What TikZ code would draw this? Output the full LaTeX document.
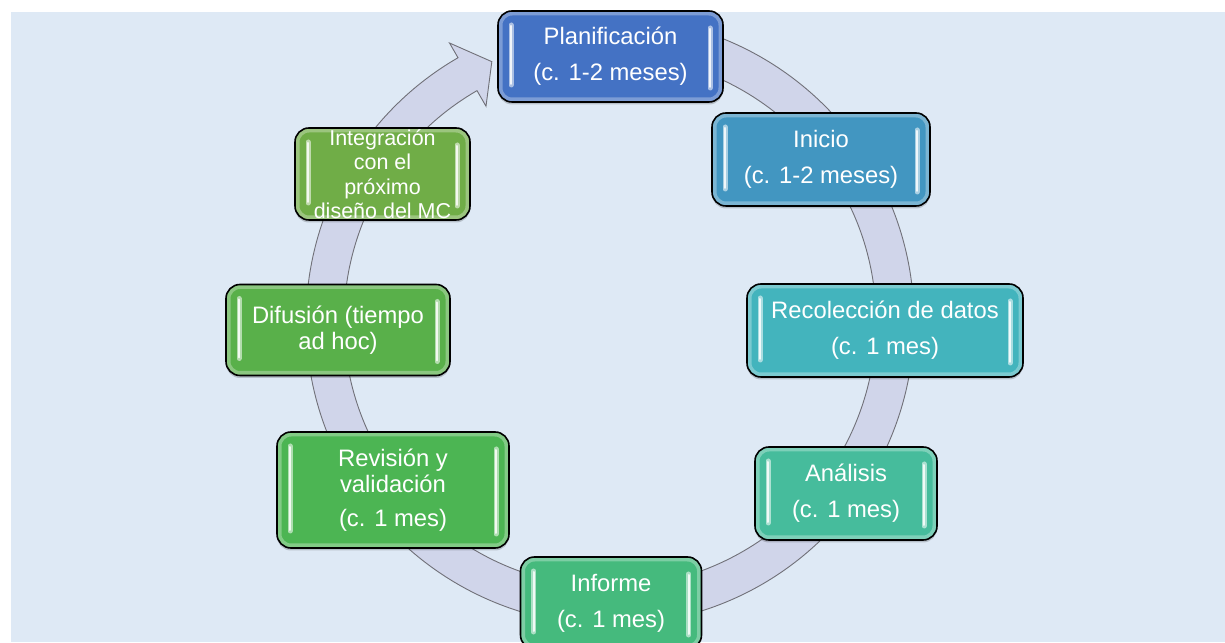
\documentclass[tikz,border=0pt]{standalone}
\usepackage{fontspec}
\setmainfont{Liberation Sans}
\usetikzlibrary{shadows}
\definecolor{bgblue}{HTML}{DEE9F5}
\definecolor{ringfill}{HTML}{D0D5EA}
\definecolor{ringline}{HTML}{707078}
\definecolor{cPlan}{HTML}{4472C4}
\definecolor{cIni}{HTML}{4296C1}
\definecolor{cRec}{HTML}{43B4BD}
\definecolor{cAna}{HTML}{46BC9C}
\definecolor{cInf}{HTML}{45BA7D}
\definecolor{cRev}{HTML}{4CB553}
\definecolor{cDif}{HTML}{59B04A}
\definecolor{cInt}{HTML}{70AD47}
\tikzset{
  cyclebox/.style={rounded corners=14pt, draw=black, line width=1.6pt, fill=#1,
    text=white, inner sep=0pt, align=center,
    drop shadow={shadow xshift=0pt, shadow yshift=-2.5pt, opacity=0.18, fill=black},
    font=\fontsize{23.8}{36}\selectfont,
    path picture={
      \draw[white, opacity=0.3, line width=9pt, rounded corners=14pt]
        (path picture bounding box.south west) rectangle (path picture bounding box.north east);
      \draw[#1!45!white, line width=5pt, line cap=round]
        ([xshift=13pt,yshift=17pt]path picture bounding box.south west) --
        ([xshift=13pt,yshift=-14pt]path picture bounding box.north west);
      \draw[#1!8!white, line width=2pt, line cap=round]
        ([xshift=13pt,yshift=18pt]path picture bounding box.south west) --
        ([xshift=13pt,yshift=-15pt]path picture bounding box.north west);
      \draw[#1!45!white, line width=5pt, line cap=round]
        ([xshift=-13pt,yshift=14pt]path picture bounding box.south east) --
        ([xshift=-13pt,yshift=-17pt]path picture bounding box.north east);
      \draw[#1!8!white, line width=2pt, line cap=round]
        ([xshift=-13pt,yshift=15pt]path picture bounding box.south east) --
        ([xshift=-13pt,yshift=-18pt]path picture bounding box.north east);
    }},
  ringshape/.style={fill=ringfill, draw=ringline, line width=0.9pt, line join=miter}
}
\begin{document}
\begin{tikzpicture}[x=1pt,y=1pt]
\useasboundingbox (0,0) rectangle (1225,642);
\fill[white] (0,0) rectangle (1225,642);
\fill[bgblue] (11,0) rectangle (1225,630);
% cycle ring with arrow head
\begin{scope}[shift={(610,321)}]
\draw[ringshape] (95:304) arc[start angle=95, end angle=-240, radius=304]
  -- (-240:321) -- (-245.5:285) -- (-240:248) -- (-240:266)
  arc[start angle=-240, end angle=95, radius=266] -- cycle;
\end{scope}
% boxes
\node[cyclebox=cPlan, minimum width=225pt, minimum height=91pt] (plan) at (610.5,585.5)
  {Planificación\\(c. 1-2 meses)};
\node[cyclebox=cIni, minimum width=218pt, minimum height=93pt] (ini) at (821,482.5)
  {Inicio\\(c. 1-2 meses)};
\node[cyclebox=cRec, minimum width=276pt, minimum height=93pt] (rec) at (885,311.5)
  {Recolección de datos\\(c. 1 mes)};
\node[cyclebox=cAna, minimum width=182pt, minimum height=93pt] (ana) at (846,148.5)
  {Análisis\\(c. 1 mes)};
\node[cyclebox=cInf, minimum width=181pt, minimum height=92pt] (inf) at (611,39)
  {Informe\\(c. 1 mes)};
\node[cyclebox=cRev, minimum width=232pt, minimum height=116pt,
  font=\fontsize{23.8}{26}\selectfont] (rev) at (393,152)
  {Revisión y\\validación\\[8pt](c. 1 mes)};
\node[cyclebox=cDif, minimum width=224pt, minimum height=91pt,
  font=\fontsize{23.8}{26}\selectfont] (dif) at (338,312)
  {Difusión (tiempo\\ad hoc)};
\node[cyclebox=cInt, minimum width=175pt, minimum height=92pt,
  font=\fontsize{21.5}{24.5}\selectfont] (int) at (382.5,468)
  {Integración\\con el\\próximo\\diseño del MC};
\end{tikzpicture}
\end{document}
